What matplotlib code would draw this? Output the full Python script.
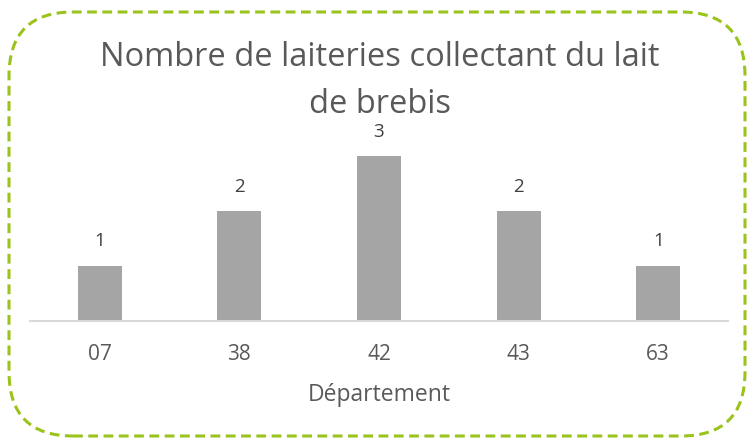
import matplotlib
matplotlib.use("Agg")
import matplotlib.pyplot as plt
from matplotlib.patches import FancyBboxPatch

categories = ["07", "38", "42", "43", "63"]
values = [1, 2, 3, 2, 1]
title = "Nombre de laiteries collectant du lait\nde brebis"
xlabel = "Département"

W, H = 753, 439
fig = plt.figure(figsize=(W / 100, H / 100), dpi=100)
plt.rcParams['font.family'] = ['Open Sans', 'DejaVu Sans']

# rounded dashed border
border = FancyBboxPatch((9 / W, 2 / H), 736 / W, 424 / H,
                        boxstyle="round,pad=0,rounding_size=0.085",
                        transform=fig.transFigure, facecolor="none",
                        edgecolor="#9AC31C", linewidth=2.2, linestyle=(0, (3.2, 1.8)),
                        mutation_aspect=W / H, zorder=5)
fig.patches.append(border)

left, right = 30, 728
bottom_px, top_px = 322, 130
ax = fig.add_axes([left / W, 1 - bottom_px / H, (right - left) / W, (bottom_px - top_px) / H])
ax.set_facecolor("none")
x = range(len(categories))
bars = ax.bar(x, values, width=0.315, color="#A5A5A5")
ax.set_xlim(-0.5, len(categories) - 0.5)
ax.set_ylim(0, 3.5)
for xi, v in zip(x, values):
    ax.annotate(str(v), (xi, v), xytext=(0, 18.5), textcoords="offset points",
                ha="center", va="center", fontsize=13.5, color="#404040")
ax.set_xticks(list(x))
ax.set_xticklabels(categories, fontsize=15, color="#595959")
ax.tick_params(axis="x", length=0, pad=16)
ax.set_yticks([])
for s in ["top", "right", "left"]:
    ax.spines[s].set_visible(False)
ax.spines["bottom"].set_color("#D9D9D9")
ax.spines["bottom"].set_linewidth(1.5)
ax.set_xlabel(xlabel, fontsize=16.5, color="#595959", labelpad=13)

fig.text(380 / W, 1 - 81 / H, title, ha="center", va="center", fontsize=23.5,
         color="#595959", linespacing=1.53)

fig.savefig("out.png", dpi=100)
